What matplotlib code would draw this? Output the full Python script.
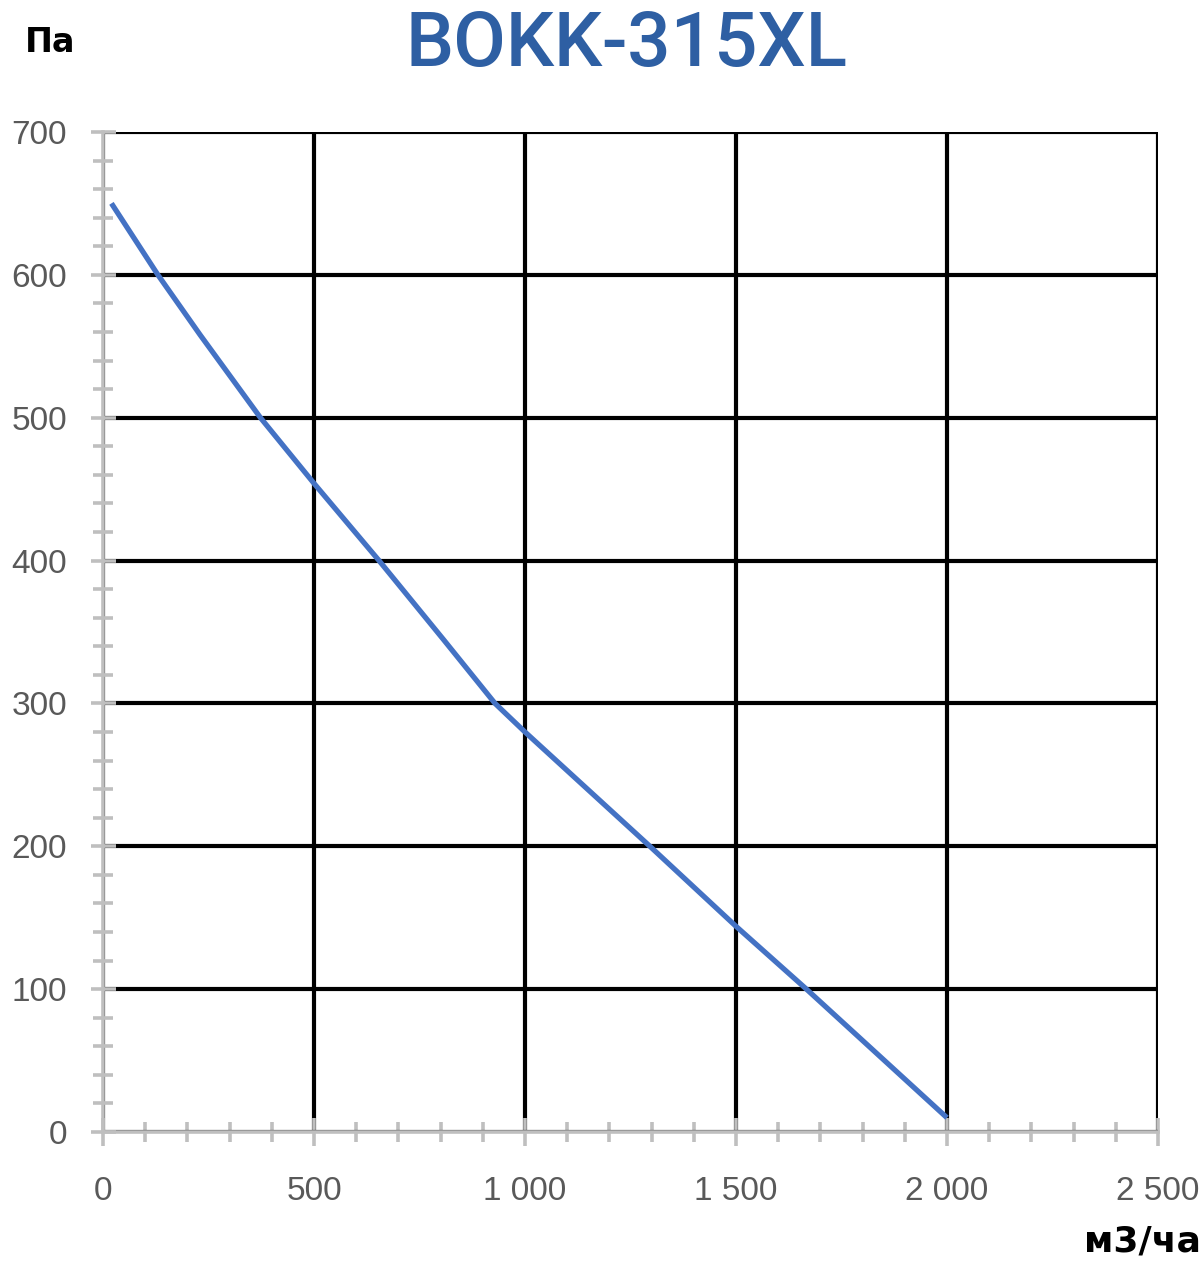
import matplotlib
matplotlib.use("Agg")
import matplotlib.pyplot as plt
from matplotlib.ticker import MultipleLocator, FuncFormatter

# Data (airflow m3/h vs pressure Pa)
flow = [20, 130, 230, 373, 500, 654, 806, 929, 1000, 1296, 1500, 1667, 2000]
pressure = [650, 600, 558, 500, 454, 400, 345, 300, 280, 200, 144, 100, 10]
title = "BOKK-315XL"
y_unit = "Па"
x_unit = "м3/ча"

fig = plt.figure(figsize=(12.02, 12.65), dpi=100)
ax = fig.add_axes([0.0857, 0.1051, 0.8777, 0.7906])

ax.plot(flow, pressure, color="#4472c4", lw=3.8, solid_capstyle="butt",
        solid_joinstyle="round", zorder=5)

ax.set_xlim(0, 2500)
ax.set_ylim(0, 700)
ax.xaxis.set_major_locator(MultipleLocator(500))
ax.xaxis.set_minor_locator(MultipleLocator(100))
ax.yaxis.set_major_locator(MultipleLocator(100))
ax.yaxis.set_minor_locator(MultipleLocator(20))

def fmt(v, pos):
    return f"{int(round(v)):,}".replace(",", " ")
ax.xaxis.set_major_formatter(FuncFormatter(fmt))

ax.grid(True, which="major", color="black", lw=3.0)
ax.set_axisbelow(False)
for s in ["top", "right"]:
    ax.spines[s].set_visible(False)
for s in ["left", "bottom"]:
    ax.spines[s].set_color("#bfbfbf")
    ax.spines[s].set_linewidth(2.6)
    ax.spines[s].set_zorder(6)

ax.tick_params(axis="y", which="major", direction="inout", length=18, width=2.6,
               color="#bfbfbf", pad=17, labelcolor="#595959", labelsize=24)
ax.tick_params(axis="y", which="minor", direction="inout", length=14, width=2.6,
               color="#bfbfbf")
ax.tick_params(axis="x", which="major", direction="inout", length=20, width=2.6,
               color="#bfbfbf", pad=22, labelcolor="#595959", labelsize=24)
ax.tick_params(axis="x", which="minor", direction="inout", length=14, width=2.6,
               color="#bfbfbf")
for lab in ax.get_xticklabels() + ax.get_yticklabels():
    lab.set_fontfamily("Liberation Sans")

fig.text(0.5215, 0.948, title, ha="center", va="baseline", fontsize=55,
         fontfamily="Roboto", fontweight="medium", color="#2e5fa3")
fig.text(0.021, 0.959, y_unit, ha="left", va="baseline", fontsize=24,
         fontfamily="DejaVu Sans", fontweight="bold", color="black")
fig.text(0.999, 0.011, x_unit, ha="right", va="baseline", fontsize=26,
         fontfamily="DejaVu Sans", fontweight="bold", color="black")

fig.savefig("out.png", dpi=100, facecolor="white")
